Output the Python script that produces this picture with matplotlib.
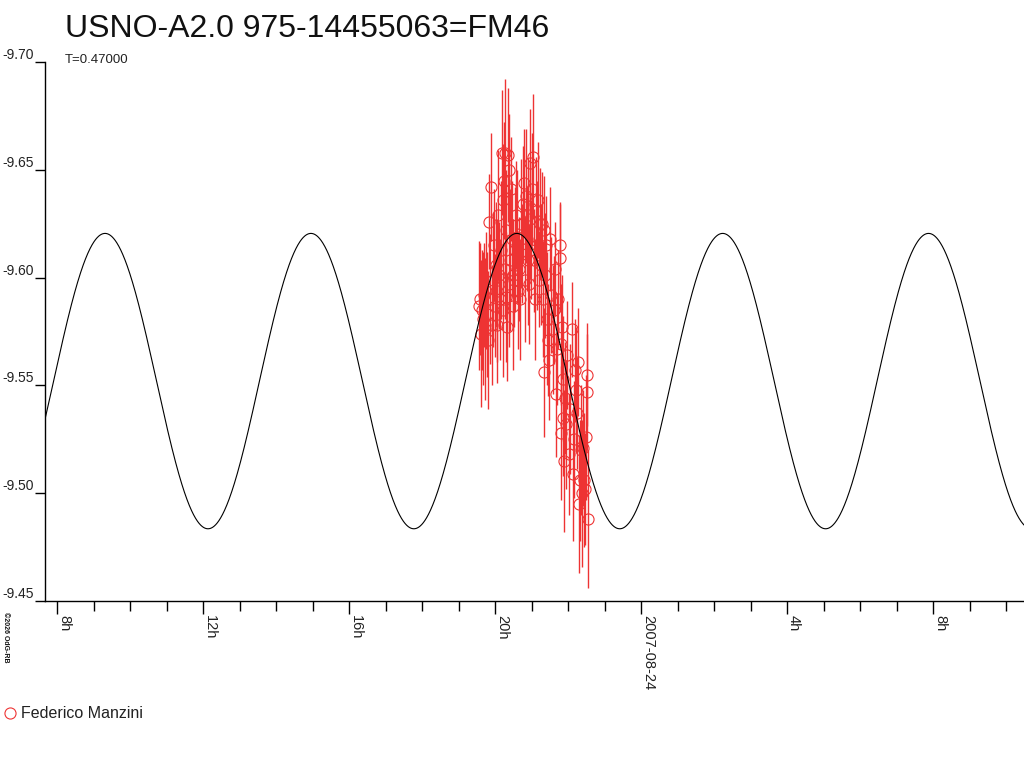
import numpy as np
import matplotlib
matplotlib.use("Agg")
import matplotlib.pyplot as plt
from matplotlib.lines import Line2D
from matplotlib.ticker import MultipleLocator, FuncFormatter

plt.rcParams['font.family'] = ['Liberation Sans', 'DejaVu Sans']

# observation times, hours after 2007-08-23 00:00 UT
times = [
    19.56, 19.59, 19.62, 19.64, 19.67, 19.70, 19.73, 19.75, 19.78, 19.81,
    19.84, 19.86, 19.89, 19.92, 19.95, 19.97, 20.00, 20.03, 20.05, 20.06,
    20.08, 20.11, 20.14, 20.16, 20.19, 20.22, 20.23, 20.25, 20.27, 20.28,
    20.30, 20.31, 20.33, 20.36, 20.38, 20.39, 20.41, 20.44, 20.47, 20.48,
    20.49, 20.52, 20.55, 20.58, 20.60, 20.63, 20.66, 20.68, 20.71, 20.74,
    20.77, 20.79, 20.82, 20.85, 20.88, 20.90, 20.91, 20.93, 20.96, 20.97,
    20.99, 21.01, 21.04, 21.07, 21.10, 21.12, 21.15, 21.18, 21.21, 21.23,
    21.26, 21.29, 21.32, 21.33, 21.34, 21.37, 21.40, 21.42, 21.45, 21.48,
    21.51, 21.53, 21.59, 21.62, 21.64, 21.67, 21.70, 21.73, 21.78, 21.79,
    21.80, 21.81, 21.84, 21.85, 21.86, 21.89, 21.92, 21.95, 21.97, 22.03,
    22.05, 22.11, 22.14, 22.16, 22.19, 22.22, 22.25, 22.27, 22.30, 22.33,
    22.36, 22.38, 22.41, 22.44, 22.47, 22.49, 22.52, 22.53, 22.54,
]
mags = [
    -9.587, -9.590, -9.574, -9.585, -9.581, -9.592, -9.576, -9.594, -9.583, -9.571,
    -9.626, -9.590, -9.642, -9.578, -9.599, -9.615, -9.587, -9.606, -9.594, -9.578,
    -9.629, -9.601, -9.590, -9.613, -9.658, -9.636, -9.585, -9.645, -9.658, -9.604,
    -9.622, -9.591, -9.577, -9.657, -9.650, -9.597, -9.608, -9.641, -9.618, -9.587,
    -9.601, -9.599, -9.613, -9.629, -9.619, -9.594, -9.604, -9.590, -9.625, -9.611,
    -9.634, -9.644, -9.599, -9.638, -9.618, -9.629, -9.608, -9.597, -9.653, -9.627,
    -9.613, -9.641, -9.656, -9.608, -9.590, -9.631, -9.615, -9.636, -9.599, -9.625,
    -9.606, -9.625, -9.590, -9.556, -9.622, -9.601, -9.615, -9.581, -9.571, -9.562,
    -9.618, -9.592, -9.576, -9.585, -9.604, -9.546, -9.567, -9.590, -9.615, -9.609,
    -9.569, -9.528, -9.577, -9.535, -9.553, -9.515, -9.544, -9.532, -9.564, -9.518,
    -9.539, -9.576, -9.509, -9.525, -9.557, -9.548, -9.537, -9.561, -9.495, -9.506,
    -9.520, -9.500, -9.521, -9.506, -9.502, -9.526, -9.555, -9.547, -9.488,
]
errs = [
    0.030, 0.026, 0.034, 0.028, 0.031, 0.024, 0.033, 0.027, 0.029, 0.032,
    0.022, 0.030, 0.025, 0.028, 0.031, 0.026, 0.024, 0.029, 0.033, 0.027,
    0.030, 0.025, 0.028, 0.032, 0.029, 0.026, 0.031, 0.027, 0.034, 0.023,
    0.028, 0.030, 0.025, 0.031, 0.026, 0.029, 0.033, 0.024, 0.027, 0.030,
    0.026, 0.022, 0.029, 0.025, 0.031, 0.027, 0.024, 0.028, 0.030, 0.023,
    0.027, 0.025, 0.029, 0.031, 0.024, 0.026, 0.030, 0.028, 0.025, 0.027,
    0.023, 0.026, 0.029, 0.024, 0.028, 0.025, 0.030, 0.027, 0.022, 0.026,
    0.028, 0.024, 0.027, 0.030, 0.025, 0.029, 0.023, 0.031, 0.026, 0.028,
    0.024, 0.027, 0.030, 0.025, 0.022, 0.029, 0.026, 0.023, 0.020, 0.025,
    0.028, 0.031, 0.024, 0.027, 0.029, 0.033, 0.026, 0.030, 0.025, 0.028,
    0.030, 0.022, 0.031, 0.027, 0.024, 0.029, 0.026, 0.025, 0.032, 0.028,
    0.030, 0.034, 0.027, 0.031, 0.026, 0.029, 0.024, 0.027, 0.032,
]

# fitted light curve: double wave with period T (days)
period_days = 0.47
mean_mag = -9.552
amplitude = 0.0685
epoch_max = 9.315  # hours, time of a brightness maximum

x_min, x_max = 7.67, 34.49
y_ticks = [-9.70, -9.65, -9.60, -9.55, -9.50, -9.45]

red = '#ee3333'

fig = plt.figure(figsize=(10.24, 7.68), dpi=100)
ax = fig.add_axes([45 / 1024, 1 - 601 / 768, 1 - 45 / 1024, (601 - 62) / 768])

tt = np.linspace(x_min, x_max, 3000)
model = mean_mag - amplitude * np.cos(4 * np.pi * (tt - epoch_max) / (period_days * 24))
ax.plot(tt, model, color='black', lw=0.8, zorder=3)

ax.errorbar(times, mags, yerr=errs, fmt='o', mfc='none', mec=red, ecolor=red,
            ms=8, mew=0.8, elinewidth=1.0, capsize=0, zorder=2)

ax.set_xlim(x_min, x_max)
ax.set_ylim(-9.45, -9.70)
ax.set_yticks(y_ticks)
ax.yaxis.set_major_formatter(FuncFormatter(lambda v, p: f"{v:.2f}"))

def hour_label(h, pos):
    h = int(round(h))
    if h % 24 == 0:
        return f"2007-08-{23 + h // 24:02d}"
    return f"{h % 24}h"

ax.xaxis.set_major_locator(MultipleLocator(4))
ax.xaxis.set_minor_locator(MultipleLocator(1))
ax.xaxis.set_major_formatter(FuncFormatter(hour_label))

for s in ['top', 'right']:
    ax.spines[s].set_visible(False)
for s in ['left', 'bottom']:
    ax.spines[s].set_linewidth(1.0)

ax.tick_params(axis='y', direction='out', length=7, width=1.0, pad=1,
               labelsize=10, labelcolor='#222222')
ax.tick_params(axis='x', which='major', direction='out', length=9, width=1.0,
               pad=1, labelsize=10.5, labelcolor='#222222')
ax.tick_params(axis='x', which='minor', direction='out', length=7.5, width=1.0)
for lab in ax.get_yticklabels():
    lab.set_verticalalignment('bottom')
for lab in ax.get_xticklabels():
    lab.set_rotation(270)
    lab.set_horizontalalignment('left')

fig.text(65 / 1024, 1 - 37 / 768, "USNO-A2.0 975-14455063=FM46", fontsize=23,
         va='baseline', ha='left', color='#111111')
fig.text(65 / 1024, 1 - 63 / 768, "T=0.47000", fontsize=9.5,
         va='baseline', ha='left', color='#222222')

fig.add_artist(Line2D([10 / 1024], [1 - 713 / 768], marker='o', mfc='none',
                      mec=red, ms=8, mew=0.8, transform=fig.transFigure))
fig.text(21 / 1024, 1 - 713 / 768, "Federico Manzini", fontsize=11.5,
         va='center', ha='left', color='#222222')

fig.text(2 / 1024, 1 - 612 / 768, "\u00a92026 OdG-RB", fontsize=5, rotation=270,
         va='top', ha='left', color='#111111', fontweight='bold')

fig.savefig("out.png", dpi=100)
